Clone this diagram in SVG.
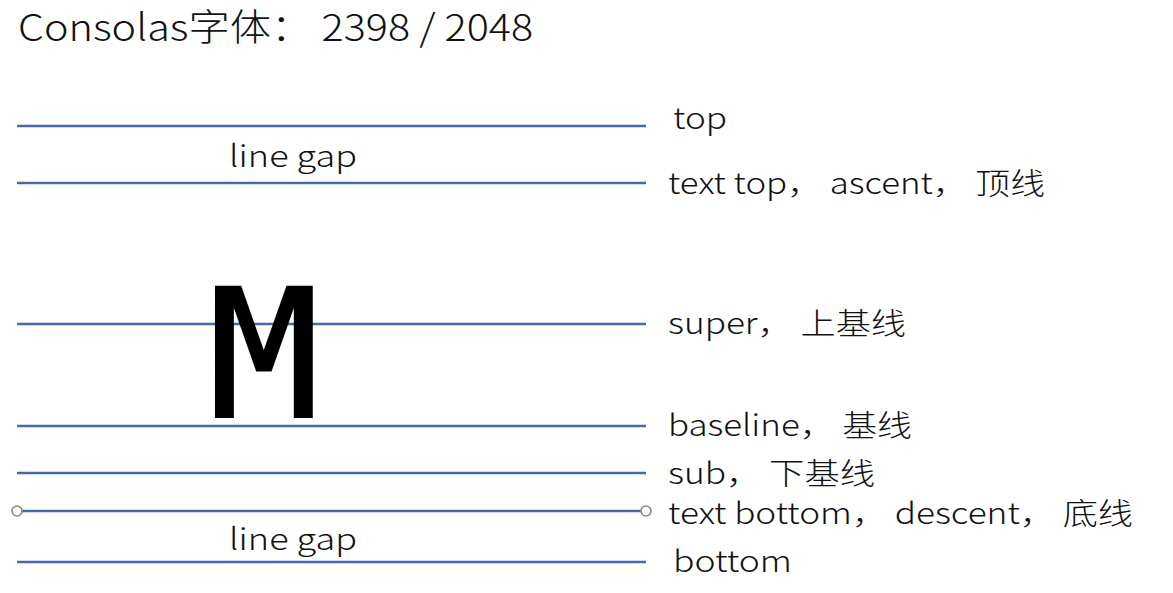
<svg xmlns="http://www.w3.org/2000/svg" width="1173" height="593" viewBox="0 0 1173 593">
<style>
.ln{stroke:#4a68a8;stroke-width:2.5;fill:none}
.lbl{font-family:"Noto Sans CJK SC","Liberation Sans",sans-serif;font-weight:300;font-size:30px;fill:#111}
.ttl{font-family:"Noto Sans CJK SC","Liberation Sans",sans-serif;font-weight:300;font-size:37px;fill:#111}
.end{fill:#fff;stroke:#888;stroke-width:1.6}
</style>
<rect width="1173" height="593" fill="#fff"/>
<g id="title"><text class="ttl" x="18" y="41" textLength="515" lengthAdjust="spacingAndGlyphs">Consolas字体： 2398 / 2048</text></g>
<g id="connectors">
<line class="ln" x1="17" y1="126" x2="646" y2="126"/>
<line class="ln" x1="17" y1="183" x2="646" y2="183"/>
<line class="ln" x1="17" y1="324" x2="646" y2="324"/>
<line class="ln" x1="17" y1="426" x2="646" y2="426"/>
<line class="ln" x1="17" y1="473" x2="646" y2="473"/>
<line class="ln" x1="17" y1="511" x2="646" y2="511"/>
<line class="ln" x1="17" y1="562" x2="646" y2="562"/>
<circle class="end" cx="17" cy="511" r="5"/>
<circle class="end" cx="646" cy="511" r="5"/>
</g>
<g id="glyph-M"><text transform="translate(264,417) scale(1.04,1)" x="0" y="0" text-anchor="middle" font-family="DejaVu Sans Mono" font-size="178" fill="#000" stroke="#000" stroke-width="2">M</text></g>
<g id="gap-top"><text class="lbl" x="229" y="167" textLength="128" lengthAdjust="spacingAndGlyphs">line gap</text></g>
<g id="gap-bottom"><text class="lbl" x="229" y="550" textLength="128" lengthAdjust="spacingAndGlyphs">line gap</text></g>
<g id="label-top"><text class="lbl" x="673" y="129" textLength="54" lengthAdjust="spacingAndGlyphs">top</text></g>
<g id="label-texttop"><text class="lbl" x="668" y="194" textLength="377" lengthAdjust="spacingAndGlyphs">text top， ascent， 顶线</text></g>
<g id="label-super"><text class="lbl" x="668" y="334" textLength="238" lengthAdjust="spacingAndGlyphs">super， 上基线</text></g>
<g id="label-baseline"><text class="lbl" x="668" y="436" textLength="244" lengthAdjust="spacingAndGlyphs">baseline， 基线</text></g>
<g id="label-sub"><text class="lbl" x="668" y="484" textLength="207" lengthAdjust="spacingAndGlyphs">sub， 下基线</text></g>
<g id="label-textbottom"><text class="lbl" x="668" y="524" textLength="465" lengthAdjust="spacingAndGlyphs">text bottom， descent， 底线</text></g>
<g id="label-bottom"><text class="lbl" x="673" y="572" textLength="119" lengthAdjust="spacingAndGlyphs">bottom</text></g>
</svg>
